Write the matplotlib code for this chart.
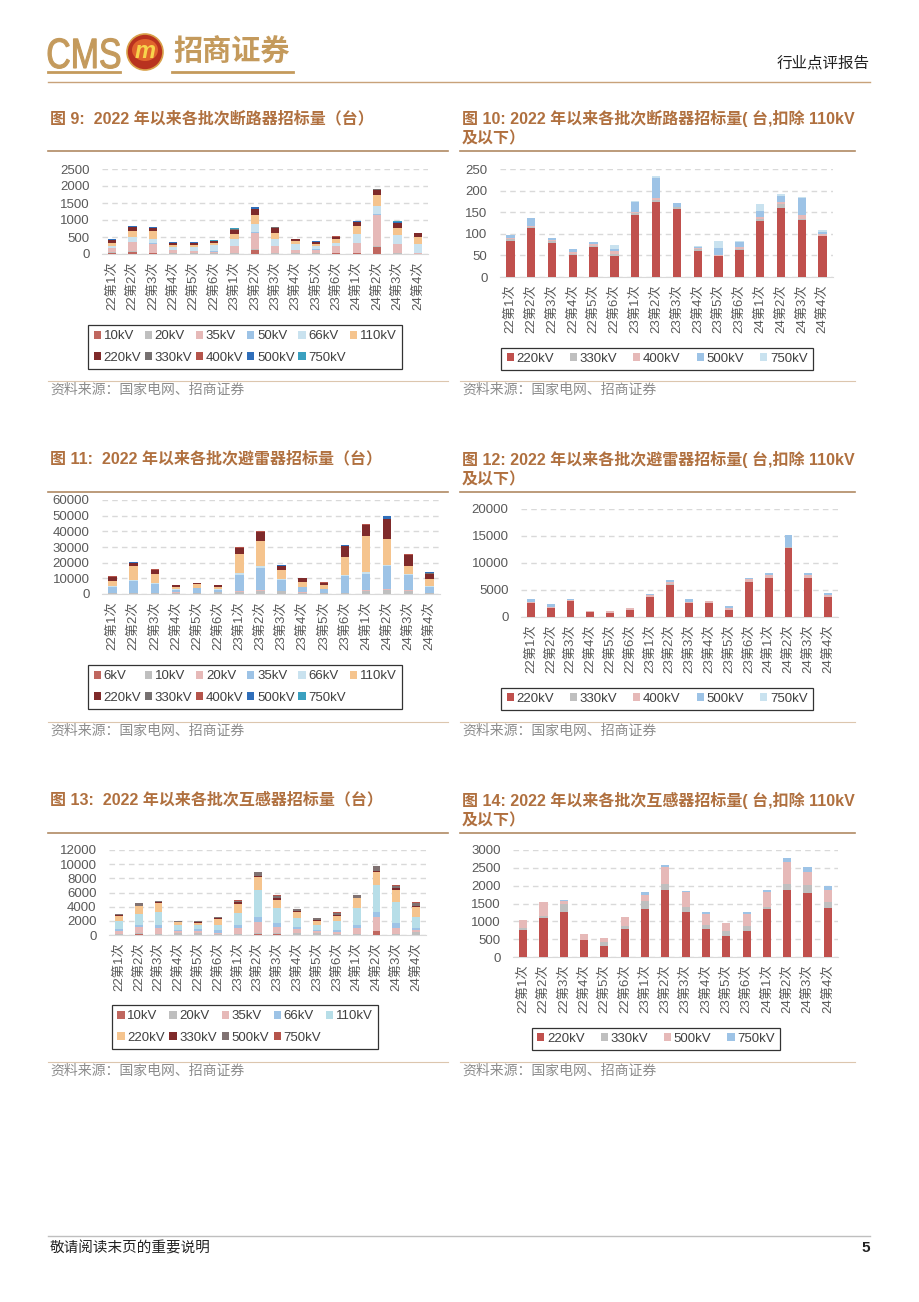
import matplotlib
matplotlib.use('Agg')
import numpy as np
import matplotlib.pyplot as plt
from matplotlib.patches import Circle, Ellipse, PathPatch
from matplotlib.textpath import TextPath
from matplotlib.font_manager import FontProperties
from matplotlib.transforms import Affine2D

plt.rcParams['font.family'] = ['Liberation Sans', 'Noto Sans CJK SC']

W, H = 920, 1302

batches = ['22第1次', '22第2次', '22第3次', '22第4次', '22第5次', '22第6次',
           '23第1次', '23第2次', '23第3次', '23第4次', '23第5次', '23第6次',
           '24第1次', '24第2次', '24第3次', '24第4次']

# 图9/10 断路器 (台)
cb_10kV = [30, 60, 30, 10, 10, 10, 10, 120, 10, 10, 10, 30, 30, 220, 10, 5]
cb_20kV = [15, 20, 10, 10, 10, 20, 5, 20, 5, 10, 10, 10, 10, 10, 10, 5]
cb_35kV = [120, 270, 260, 90, 70, 40, 230, 470, 210, 90, 110, 200, 280, 930, 260, 10]
cb_50kV = [10, 10, 10, 5, 10, 5, 5, 30, 10, 10, 5, 10, 10, 20, 10, 5]
cb_66kV = [60, 130, 140, 90, 100, 200, 180, 230, 200, 170, 100, 80, 250, 240, 260, 260]
cb_110kV = [100, 190, 240, 70, 60, 50, 145, 280, 185, 80, 70, 120, 230, 310, 220, 225]
cb_220kV = [83, 113, 79, 51, 69, 49, 144, 174, 158, 60, 49, 62, 130, 160, 132, 96]
cb_330kV = [5, 2, 4, 3, 2, 5, 3, 5, 3, 4, 0, 2, 5, 10, 3, 0]
cb_400kV = [2, 2, 3, 4, 6, 6, 4, 5, 2, 3, 2, 5, 4, 3, 8, 3]
cb_500kV = [8, 20, 5, 7, 4, 4, 22, 46, 8, 2, 16, 12, 14, 14, 40, 6]
cb_750kV = [0, 0, 0, 0, 0, 10, 2, 3, 0, 2, 16, 2, 15, 4, 3, 4]

# 图11/12 避雷器 (台)
la_6kV = [100, 100, 100, 100, 50, 50, 200, 200, 100, 100, 50, 100, 200, 300, 200, 100]
la_10kV = [500, 500, 500, 800, 500, 1000, 1200, 2000, 1800, 800, 500, 500, 2000, 2500, 2000, 600]
la_20kV = [100, 200, 100, 200, 100, 100, 300, 300, 200, 100, 100, 200, 300, 300, 200, 100]
la_35kV = [4000, 7800, 5800, 1500, 3000, 1700, 10500, 14000, 7000, 3200, 2400, 10700, 10500, 14500, 9800, 3600]
la_66kV = [250, 300, 650, 400, 350, 400, 1500, 1100, 700, 400, 300, 450, 800, 1200, 400, 650]
la_110kV = [3500, 9200, 5500, 1600, 2100, 1000, 11950, 16000, 5450, 2850, 2400, 11900, 23000, 16000, 5000, 4300]
la_220kV = [2600, 1700, 2900, 900, 800, 1300, 3700, 6000, 2500, 2600, 1300, 6500, 7200, 12800, 7200, 3700]
la_330kV = [50, 50, 50, 0, 0, 50, 50, 100, 50, 50, 50, 50, 100, 200, 100, 50]
la_400kV = [200, 150, 200, 200, 250, 300, 300, 300, 300, 300, 300, 400, 500, 0, 400, 300]
la_500kV = [500, 500, 200, 100, 50, 100, 300, 500, 400, 100, 400, 200, 400, 2200, 500, 400]
la_750kV = [0] * 16

# 图13/14 互感器 (台)
ct_10kV = [50, 200, 50, 50, 50, 50, 50, 200, 200, 50, 50, 50, 50, 500, 50, 50]
ct_20kV = [150, 100, 100, 300, 300, 100, 100, 100, 100, 200, 200, 100, 100, 100, 100, 400]
ct_35kV = [400, 800, 900, 200, 200, 200, 800, 1500, 800, 600, 300, 300, 800, 2000, 900, 200]
ct_66kV = [300, 300, 300, 200, 300, 400, 500, 700, 600, 300, 100, 300, 400, 600, 700, 400]
ct_110kV = [1060, 1570, 1860, 600, 570, 730, 1620, 3810, 2060, 1300, 790, 1190, 2480, 3830, 2840, 1560]
ct_220kV = [770, 1100, 1260, 480, 320, 790, 1350, 1870, 1250, 790, 590, 740, 1350, 1870, 1800, 1380]
ct_330kV = [50, 50, 220, 0, 100, 80, 230, 180, 160, 100, 150, 140, 60, 180, 220, 150]
ct_500kV = [220, 380, 80, 170, 110, 240, 150, 470, 400, 310, 200, 330, 400, 620, 360, 360]
ct_750kV = [0, 0, 30, 0, 0, 10, 100, 70, 30, 50, 20, 50, 60, 100, 130, 100]

TITLE_C = '#b0703f'
TICK_C = '#595959'


def rect(l, t, r, b):
    return [l / W, 1 - b / H, (r - l) / W, (b - t) / H]


fig = plt.figure(figsize=(W / 100, H / 100), dpi=100)
bg = fig.add_axes([0, 0, 1, 1], zorder=0)
bg.set_xlim(0, W)
bg.set_ylim(H, 0)
bg.axis('off')


def stacked(box, series, labels, colors, ymax, ystep, leg_xy, ncol, colsp):
    ax = fig.add_axes(rect(*box), zorder=2)
    ax.set_facecolor('none')
    x = np.arange(len(batches))
    bottom = np.zeros(len(batches))
    handles = []
    for vals, lab, col in zip(series, labels, colors):
        b = ax.bar(x, vals, 0.4, bottom=bottom, color=col, label=lab, zorder=3)
        handles.append(b)
        bottom += np.array(vals)
    ax.set_xlim(-0.5, len(batches) - 0.5)
    ax.set_ylim(0, ymax)
    ax.set_yticks(np.arange(0, ymax + 1, ystep))
    ax.set_xticks(x)
    ax.set_xticklabels(batches, rotation=90)
    ax.tick_params(axis='both', length=0, labelsize=9.5, colors=TICK_C)
    ax.tick_params(axis='y', pad=9)
    ax.tick_params(axis='x', pad=5)
    ax.grid(axis='y', color='#d9d9d9', linestyle=(0, (4, 3)), linewidth=1.0, zorder=0)
    for s in ['top', 'right', 'left']:
        ax.spines[s].set_visible(False)
    ax.spines['bottom'].set_color('#d9d9d9')
    # row-major ordering of legend entries
    n = len(labels)
    nrows = int(np.ceil(n / ncol))
    order = [r * ncol + c for c in range(ncol) for r in range(nrows) if r * ncol + c < n]
    leg = ax.legend([handles[i] for i in order], [labels[i] for i in order],
                    ncol=ncol, loc='center',
                    bbox_to_anchor=(leg_xy[0] / W, 1 - leg_xy[1] / H),
                    bbox_transform=fig.transFigure, fontsize=9.5,
                    frameon=True, fancybox=False, edgecolor='black',
                    handlelength=0.55, handleheight=0.55, handletextpad=0.2,
                    columnspacing=colsp, labelspacing=0.7, borderpad=0.4,
                    borderaxespad=0)
    leg.get_frame().set_linewidth(0.9)
    for t in leg.get_texts():
        t.set_color('#404040')
    return ax


left_pal = ['#c0675f', '#bfbfbf', '#e6b9b8', '#9dc3e6', '#c9e2ef', '#f5c48e',
            '#7f2a2a', '#767171', '#b5544b', '#2f6eba', '#3aa0c0']
right_pal = ['#c0504d', '#bfbfbf', '#e6b9b8', '#9dc3e6', '#c9e2ef']

# Fig 9
stacked((102, 169, 428, 254),
        [cb_10kV, cb_20kV, cb_35kV, cb_50kV, cb_66kV, cb_110kV,
         cb_220kV, cb_330kV, cb_400kV, cb_500kV, cb_750kV],
        ['10kV', '20kV', '35kV', '50kV', '66kV', '110kV',
         '220kV', '330kV', '400kV', '500kV', '750kV'],
        left_pal, 2500, 500, (245, 347), 6, 0.28)

# Fig 10
stacked((500, 169, 833, 277),
        [cb_220kV, cb_330kV, cb_400kV, cb_500kV, cb_750kV],
        ['220kV', '330kV', '400kV', '500kV', '750kV'],
        right_pal, 250, 50, (657, 359), 5, 1.2)

# Fig 11
stacked((102, 500, 440, 594),
        [la_6kV, la_10kV, la_20kV, la_35kV, la_66kV, la_110kV,
         la_220kV, la_330kV, la_400kV, la_500kV, la_750kV],
        ['6kV', '10kV', '20kV', '35kV', '66kV', '110kV',
         '220kV', '330kV', '400kV', '500kV', '750kV'],
        left_pal, 60000, 10000, (245, 687), 6, 0.28)

# Fig 12
stacked((521, 509, 838, 617),
        [la_220kV, la_330kV, la_400kV, la_500kV, la_750kV],
        ['220kV', '330kV', '400kV', '500kV', '750kV'],
        right_pal, 20000, 5000, (657, 699), 5, 1.2)

# Fig 13
stacked((109, 850, 426, 935),
        [ct_10kV, ct_20kV, ct_35kV, ct_66kV, ct_110kV,
         ct_220kV, ct_330kV, ct_500kV, ct_750kV],
        ['10kV', '20kV', '35kV', '66kV', '110kV',
         '220kV', '330kV', '500kV', '750kV'],
        ['#c0675f', '#bfbfbf', '#e6b9b8', '#9dc3e6', '#b7dee8',
         '#f5c48e', '#7f2a2a', '#807272', '#b5544b'],
        12000, 2000, (245, 1027), 5, 0.35)

# Fig 14
stacked((513, 850, 838, 957),
        [ct_220kV, ct_330kV, ct_500kV, ct_750kV],
        ['220kV', '330kV', '500kV', '750kV'],
        ['#c0504d', '#bfbfbf', '#e6b9b8', '#9dc3e6'],
        3000, 500, (656, 1039), 4, 1.2)

# ---- page decorations ----
gold = '#c49a5c'
tp = TextPath((0, 0), 'CMS', size=40, prop=FontProperties(family='Liberation Sans'))
ext = tp.get_extents()
sx, sy = 72 / ext.width, 30 / ext.height
path = Affine2D().translate(-ext.x0, 0).scale(sx, -sy).translate(48, 68).transform_path(tp)
bg.add_patch(PathPatch(path, fc=gold, ec=gold, lw=0.8))
bg.add_patch(Circle((145, 52), 18, fc='#b8321f', ec='#d9a14a', lw=1.2))
bg.add_patch(Ellipse((145, 50), 26, 22, fc='#e0642c', ec='none'))
bg.text(145, 52, 'm', fontsize=17, fontweight='bold', style='italic',
        color='#f7d44c', ha='center', va='center')
bg.text(232, 52, '招商证券', fontsize=21, fontweight='bold', color=gold,
        ha='center', va='center', family=['Noto Sans CJK SC'])
bg.plot([48, 120], [72, 72], color=gold, lw=2)
bg.plot([172, 293], [72, 72], color=gold, lw=2)
bg.text(870, 63, '行业点评报告', fontsize=11.2, color='#222222', ha='right', va='center')
bg.plot([48, 870], [82, 82], color='#c8a27a', lw=1)

titles_left = ['图 9:  2022 年以来各批次断路器招标量（台）',
               '图 11:  2022 年以来各批次避雷器招标量（台）',
               '图 13:  2022 年以来各批次互感器招标量（台）']
titles_right = ['图 10: 2022 年以来各批次断路器招标量( 台,扣除 110kV',
                '图 12: 2022 年以来各批次避雷器招标量( 台,扣除 110kV',
                '图 14: 2022 年以来各批次互感器招标量( 台,扣除 110kV']
for i, y0 in enumerate([118, 459, 800]):
    bg.text(50, y0, titles_left[i], fontsize=11.5, fontweight='bold',
            color=TITLE_C, ha='left', va='center')
    bg.text(462, y0, titles_right[i], fontsize=11.5, fontweight='bold',
            color=TITLE_C, ha='left', va='center')
    bg.text(462, y0 + 21, '及以下）', fontsize=11.5, fontweight='bold',
            color=TITLE_C, ha='left', va='center')
    bg.plot([48, 448], [y0 + 33, y0 + 33], color='#b08a64', lw=1.2)
    bg.plot([460, 855], [y0 + 33, y0 + 33], color='#b08a64', lw=1.2)

for y0 in [390, 731, 1071]:
    bg.plot([48, 448], [y0 - 9, y0 - 9], color='#dcc6ae', lw=0.8)
    bg.plot([460, 855], [y0 - 9, y0 - 9], color='#dcc6ae', lw=0.8)
    bg.text(50, y0, '资料来源：国家电网、招商证券', fontsize=10, color='#8c8c8c',
            ha='left', va='center')
    bg.text(462, y0, '资料来源：国家电网、招商证券', fontsize=10, color='#8c8c8c',
            ha='left', va='center')

bg.plot([48, 870], [1236, 1236], color='#bfbfbf', lw=1)
bg.text(50, 1248, '敬请阅读末页的重要说明', fontsize=10.5, color='#222222', ha='left', va='center')
bg.text(870, 1248, '5', fontsize=11, fontweight='bold', color='#222222', ha='right', va='center')

fig.savefig('out.png', dpi=100)
